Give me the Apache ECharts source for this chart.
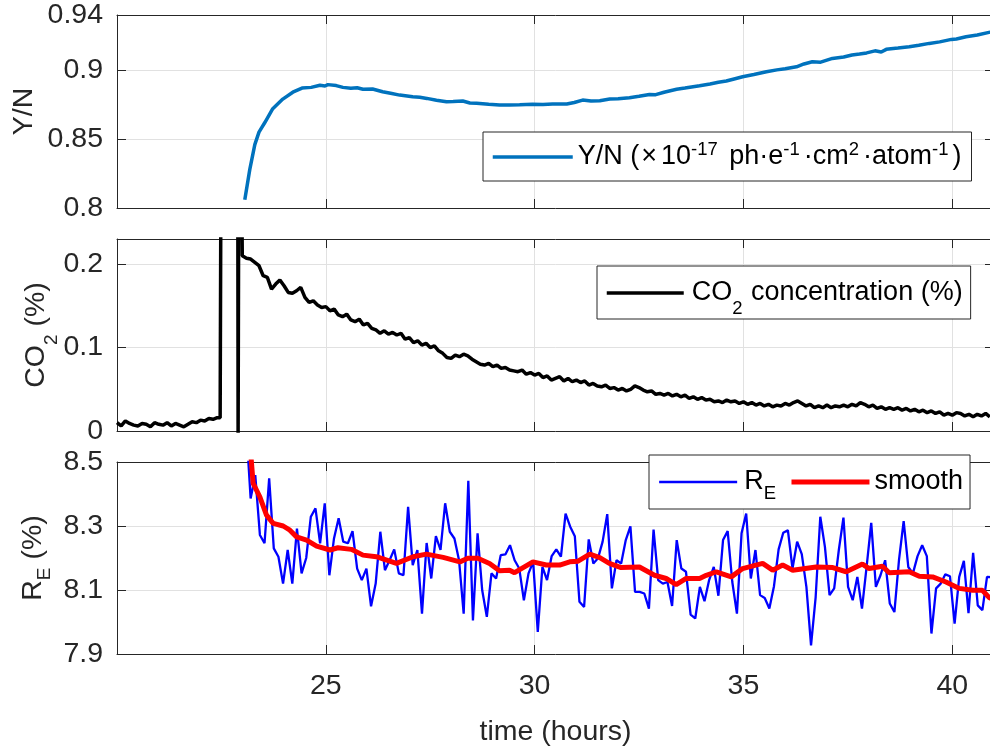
<!DOCTYPE html>
<html><head><meta charset="utf-8">
<script src="https://cdn.jsdelivr.net/npm/echarts@6/dist/echarts.min.js"></script>
<style>html,body{margin:0;padding:0;background:#fff;overflow:hidden}#c{width:1010px;height:746px}</style>
</head><body><div id="c"></div>
<script>
// ---------------- data ----------------
const xTickLabels = ['25', '30', '35', '40'];
const ynTickLabels = ['0.8', '0.85', '0.9', '0.94'];
const co2TickLabels = ['0', '0.1', '0.2'];
const reTickLabels = ['7.9', '8.1', '8.3', '8.5'];

// Y/N panel
const ynTime = [23.06,23.18,23.30,23.40,23.54,23.73,23.97,24.21,24.43,24.65,24.86,24.98,25.05,25.25,25.41,25.60,25.75,25.89,26.12,26.36,26.55,26.77,27.08,27.25,27.42,27.65,27.89,28.05,28.28,28.45,28.61,28.90,29.16,29.40,29.64,29.95,30.20,30.43,30.77,30.95,31.15,31.35,31.56,31.80,32.00,32.27,32.50,32.75,32.90,33.10,33.40,33.60,33.95,34.20,34.40,34.59,34.80,34.98,35.25,35.55,35.80,36.00,36.27,36.45,36.65,36.85,37.13,37.40,37.60,37.78,37.95,38.15,38.30,38.42,38.70,38.97,39.20,39.45,39.70,39.98,40.10,40.33,40.60,40.88,41.00];
const ynValue = [0.806,0.828,0.846,0.855,0.862,0.872,0.879,0.884,0.887,0.8875,0.8890,0.8885,0.8895,0.8888,0.8875,0.8868,0.8872,0.8861,0.8863,0.8843,0.8832,0.8819,0.8807,0.8803,0.8795,0.8782,0.8771,0.8772,0.8776,0.8762,0.8759,0.8752,0.8747,0.8748,0.8749,0.8752,0.8750,0.8754,0.8754,0.8765,0.8783,0.8776,0.8778,0.8790,0.8792,0.8800,0.8810,0.8824,0.8822,0.8840,0.8861,0.8870,0.8887,0.8900,0.8912,0.8921,0.8938,0.8952,0.8968,0.8988,0.9002,0.9010,0.9024,0.9045,0.9061,0.9058,0.9085,0.9095,0.9110,0.9117,0.9125,0.9140,0.9132,0.9151,0.9160,0.9169,0.9180,0.9194,0.9205,0.9223,0.9226,0.9242,0.9255,0.9274,0.9280];

// CO2 panel
const co2PreTime = [20.0,20.1,20.2,20.3,20.4,20.5,20.6,20.7,20.8,20.9,21.0,21.1,21.2,21.3,21.4,21.5,21.6,21.7,21.8,21.9,22.0,22.1,22.2,22.3,22.4,22.47];
const co2PreValue = [0.010,0.006,0.012,0.009,0.007,0.006,0.009,0.008,0.005,0.010,0.008,0.007,0.010,0.006,0.009,0.007,0.005,0.008,0.011,0.010,0.013,0.012,0.015,0.014,0.016,0.016];
const co2SpikeTime = [22.52, 22.88, 22.90, 22.93];
const co2SpikeValue = [0.80, 0.80, -0.01, 0.60];
const co2Start = 23.0, co2Step = 0.1;
const co2Value = [
 0.210,0.207,0.206,0.202,0.198,0.186,0.184,0.170,0.176,0.181,
 0.174,0.166,0.165,0.168,0.172,0.160,0.154,0.156,0.151,0.148,
 0.149,0.144,0.146,0.139,0.137,0.140,0.133,0.131,0.134,0.127,
 0.129,0.123,0.121,0.117,0.120,0.116,0.118,0.115,0.117,0.110,
 0.112,0.106,0.108,0.103,0.105,0.100,0.102,0.096,0.093,0.088,
 0.087,0.091,0.089,0.092,0.090,0.086,0.083,0.080,0.079,0.081,
 0.077,0.079,0.075,0.076,0.073,0.072,0.071,0.073,0.068,0.070,
 0.067,0.069,0.064,0.066,0.061,0.063,0.065,0.060,0.063,0.059,
 0.061,0.058,0.060,0.055,0.057,0.054,0.053,0.055,0.051,0.052,
 0.049,0.051,0.048,0.050,0.054,0.052,0.049,0.047,0.048,0.044,
 0.045,0.043,0.045,0.042,0.044,0.041,0.043,0.039,0.041,0.038,
 0.040,0.037,0.038,0.035,0.036,0.034,0.037,0.035,0.036,0.033,
 0.035,0.032,0.034,0.031,0.033,0.030,0.032,0.029,0.031,0.030,
 0.033,0.031,0.034,0.036,0.033,0.030,0.032,0.028,0.030,0.028,
 0.031,0.028,0.030,0.029,0.031,0.029,0.032,0.030,0.034,0.032,
 0.029,0.031,0.027,0.029,0.026,0.028,0.026,0.028,0.025,0.027,
 0.024,0.026,0.023,0.025,0.022,0.024,0.021,0.023,0.019,0.021,
 0.019,0.022,0.021,0.018,0.020,0.017,0.020,0.018,0.021,0.017];

// R_E panel (regularly sampled)
const reStart = 23.089, reStep = 0.1109;
const reValue = [
 8.62,8.386,8.459,8.272,8.246,8.449,8.230,8.204,8.120,8.225,
 8.120,8.292,8.152,8.200,8.329,8.355,8.246,8.371,8.146,8.261,
 8.324,8.251,8.246,8.284,8.167,8.131,8.167,8.049,8.120,8.282,
 8.162,8.193,8.227,8.152,8.146,8.360,8.178,8.225,8.026,8.247,
 8.136,8.268,8.225,8.371,8.282,8.261,8.193,8.026,8.441,8.005,
 8.277,8.099,8.016,8.152,8.136,8.209,8.211,8.240,8.193,8.167,
 8.068,8.152,8.188,7.969,8.172,8.131,8.206,8.227,8.204,8.339,
 8.298,8.268,8.063,8.047,8.258,8.183,8.199,8.251,8.337,8.105,
 8.193,8.183,8.256,8.299,8.094,8.094,8.089,8.042,8.289,8.131,
 8.120,8.125,8.050,8.256,8.167,8.157,8.023,8.011,8.110,8.065,
 8.131,8.172,8.082,8.256,8.284,8.125,8.026,8.277,8.339,8.136,
 8.225,8.084,8.075,8.042,8.112,8.227,8.279,8.287,8.167,8.251,
 8.212,8.110,7.927,8.078,8.329,8.235,8.084,8.105,8.225,8.326,
 8.110,8.068,8.141,8.042,8.172,8.310,8.110,8.146,8.193,8.058,
 8.031,8.195,8.315,8.172,8.152,8.206,8.240,8.206,7.964,8.105,
 8.120,8.149,8.143,7.995,8.141,8.191,8.028,8.216,8.052,8.037,
 8.141,8.140];
const smoothTime = [23.20,23.26,23.42,23.58,23.74,23.98,24.14,24.30,24.54,24.78,25.10,25.29,25.61,25.89,26.21,26.69,27.09,27.41,27.81,28.21,28.40,28.64,28.92,29.16,29.40,29.52,29.96,30.28,30.60,30.84,31.04,31.32,31.56,31.79,32.07,32.51,32.87,33.15,33.39,33.63,33.95,34.11,34.35,34.71,34.98,35.46,35.70,35.94,36.18,36.74,37.14,37.46,37.85,38.01,38.33,38.49,38.97,39.21,39.53,39.85,40.17,40.49,40.72,40.88,41.00];
const smoothValue = [8.53,8.433,8.391,8.334,8.308,8.300,8.287,8.266,8.256,8.237,8.225,8.232,8.227,8.209,8.204,8.183,8.204,8.212,8.202,8.188,8.199,8.199,8.183,8.160,8.162,8.154,8.188,8.178,8.178,8.188,8.190,8.212,8.201,8.183,8.170,8.172,8.146,8.136,8.117,8.136,8.136,8.146,8.157,8.141,8.167,8.183,8.162,8.178,8.162,8.172,8.170,8.157,8.181,8.167,8.174,8.154,8.157,8.143,8.141,8.125,8.105,8.099,8.099,8.077,8.070];

// ---------------- build ----------------
const FONT = "'Liberation Sans', Arial, Helvetica, sans-serif";
const TXT = '#262626';
const GRIDC = '#e1e1e1';
const FS = 28.5;
const LFS = 27;

const pairs = (t, v) => t.map((x, i) => [x, v[i]]);
const ynData = pairs(ynTime, ynValue);
const co2Data = pairs(co2PreTime, co2PreValue)
  .concat(pairs(co2SpikeTime, co2SpikeValue))
  .concat(co2Value.map((v, i) => [co2Start + i * co2Step, v]));
const reData = reValue.map((v, i) => [reStart + i * reStep, v]);
const smoothData = pairs(smoothTime, smoothValue);

function fmt(list) {
  return function (v) {
    const s = list.find(t => Math.abs(parseFloat(t) - v) < 1e-6);
    return s === undefined ? '' : s;
  };
}

const GRIDS = [
  {left: 117, top: 15, width: 877, height: 193, outerBoundsMode: 'none'},
  {left: 117, top: 239, width: 877, height: 192, outerBoundsMode: 'none'},
  {left: 117, top: 462, width: 877, height: 192, outerBoundsMode: 'none'}
];

function xAxisPair(gi, showLabels) {
  const base = {
    type: 'value', gridIndex: gi, min: 20, max: 41, interval: 5,
    axisLine: {show: true, onZero: false, lineStyle: {color: TXT, width: 1}},
    axisTick: {show: true, inside: true, length: 9, lineStyle: {color: TXT, width: 1}}
  };
  const bottom = Object.assign({}, base, {
    position: 'bottom',
    splitLine: {show: true, lineStyle: {color: GRIDC, width: 1}},
    axisLabel: {show: showLabels, formatter: fmt(xTickLabels), margin: 15, color: TXT,
      fontFamily: FONT, fontSize: FS, lineHeight: 34}
  });
  if (showLabels) {
    Object.assign(bottom, {
      name: 'time (hours)', nameLocation: 'middle', nameGap: 61, nameMoveOverlap: false,
      nameTextStyle: {color: TXT, fontFamily: FONT, fontSize: FS, lineHeight: 34}
    });
  }
  const top = Object.assign({}, base, {
    position: 'top', splitLine: {show: false}, axisLabel: {show: false}
  });
  return [bottom, top];
}

function yAxisPair(gi, min, max, interval, labels, name, nameGap, rich) {
  const base = {
    type: 'value', gridIndex: gi, min: min, max: max, interval: interval,
    axisLine: {show: true, onZero: false, lineStyle: {color: TXT, width: 1}},
    axisTick: {show: true, inside: true, length: 9, lineStyle: {color: TXT, width: 1}}
  };
  const left = Object.assign({}, base, {
    position: 'left',
    splitLine: {show: true, lineStyle: {color: GRIDC, width: 1}},
    axisLabel: {show: true, formatter: fmt(labels), margin: 14, color: TXT,
      fontFamily: FONT, fontSize: FS, lineHeight: 34},
    name: name, nameLocation: 'middle', nameGap: nameGap, nameMoveOverlap: false,
    nameTextStyle: {color: TXT, fontFamily: FONT, fontSize: FS, rich: rich}
  });
  const right = Object.assign({}, base, {
    position: 'right', splitLine: {show: false}, axisLabel: {show: false}
  });
  return [left, right];
}

const nTok = lh => ({fontFamily: FONT, fontSize: FS, color: TXT, lineHeight: lh});
const subTok = p => ({fontFamily: FONT, fontSize: 19, color: TXT, lineHeight: 19, padding: [p, 0, 0, 0]});

const legTxt = '#000';
const lTok = (lh, pl, pr) => ({fontFamily: FONT, fontSize: LFS, color: legTxt, lineHeight: lh, padding: [0, pr || 0, 0, pl || 0]});
const lsupTok = (p, pr) => ({fontFamily: FONT, fontSize: 18.5, color: legTxt, lineHeight: 19, padding: [0, pr, p, 0]});
const lsubTok = (p, pr) => ({fontFamily: FONT, fontSize: 18.5, color: legTxt, lineHeight: 19, padding: [p, pr || 0, 0, 0]});

const legendLabel = {
  'Y/N': '{n|Y/N (}{x|×}{n|10}{sup|-17}{n| ph·e}{sup|-1}{n|·cm}{sup|2}{n|·atom}{sup|-1}{n|)}',
  'CO2': '{f|CO}{sub|2}{n| concentration (%)}',
  'RE': '{f|R}{sub|E}',
  'smooth': '{n|smooth}'
};

const xAxes = [].concat(xAxisPair(0, false), xAxisPair(1, false), xAxisPair(2, true));
const yAxes = [].concat(
  yAxisPair(0, 0.8, 0.94, 0.05, ynTickLabels, '{n|Y/N}', 76, {n: nTok(34)}),
  yAxisPair(1, 0, 0.23, 0.1, co2TickLabels, '{n|CO}{sub|2}{n| (%)}', 64, {n: nTok(34), sub: subTok(31)}),
  yAxisPair(2, 7.9, 8.5, 0.2, reTickLabels, '{n|R}{sub|E}{n| (%)}', 67, {n: nTok(34), sub: subTok(23)})
);

const legendCommon = {
  orient: 'horizontal', selectedMode: false, borderColor: TXT, borderWidth: 1,
  borderRadius: 0, backgroundColor: '#fff', itemHeight: 20, z: 10,
  itemStyle: {opacity: 0},
  lineStyle: {width: 'inherit'},
  formatter: name => legendLabel[name]
};

const option = {
  animation: false,
  backgroundColor: '#fff',
  grid: GRIDS,
  xAxis: xAxes,
  yAxis: yAxes,
  legend: [
    Object.assign({}, legendCommon, {
      data: ['Y/N'], left: 483, top: 132, itemWidth: 80, padding: [8, 10, 7, 8],
      textStyle: {rich: {
        n: lTok(34), x: lTok(34, 2, 4), sup: lsupTok(15, 4)
      }}
    }),
    Object.assign({}, legendCommon, {
      data: ['CO2'], left: 597, top: 266, itemWidth: 77, padding: [2, 8, 1, 8],
      textStyle: {rich: {f: lTok(34, 3), n: lTok(34), sub: lsubTok(31, 1)}}
    }),
    Object.assign({}, legendCommon, {
      data: ['RE', 'smooth'], left: 649, top: 455, itemWidth: 78, itemGap: 13, padding: [6, 7, 6, 9],
      textStyle: {rich: {f: lTok(42, 2), n: lTok(42), sub: lsubTok(23)}}
    })
  ],
  series: [
    {name: 'Y/N', type: 'line', xAxisIndex: 0, yAxisIndex: 0, data: ynData, symbol: 'none',
      clip: true, lineStyle: {color: '#0072BD', width: 3.5}, itemStyle: {color: '#0072BD'}},
    {name: 'CO2', type: 'line', xAxisIndex: 2, yAxisIndex: 2, data: co2Data, symbol: 'none',
      clip: true, lineStyle: {color: '#000000', width: 3.5}, itemStyle: {color: '#000000'}},
    {name: 'RE', type: 'line', xAxisIndex: 4, yAxisIndex: 4, data: reData, symbol: 'none',
      clip: true, lineStyle: {color: '#0000FF', width: 2.3}, itemStyle: {color: '#0000FF'}},
    {name: 'smooth', type: 'line', xAxisIndex: 4, yAxisIndex: 4, data: smoothData, symbol: 'none',
      clip: true, lineStyle: {color: '#FF0000', width: 5}, itemStyle: {color: '#FF0000'}}
  ]
};

const chart = echarts.init(document.getElementById('c'), null, {renderer: 'canvas'});
chart.setOption(option);
</script>
</body></html>
